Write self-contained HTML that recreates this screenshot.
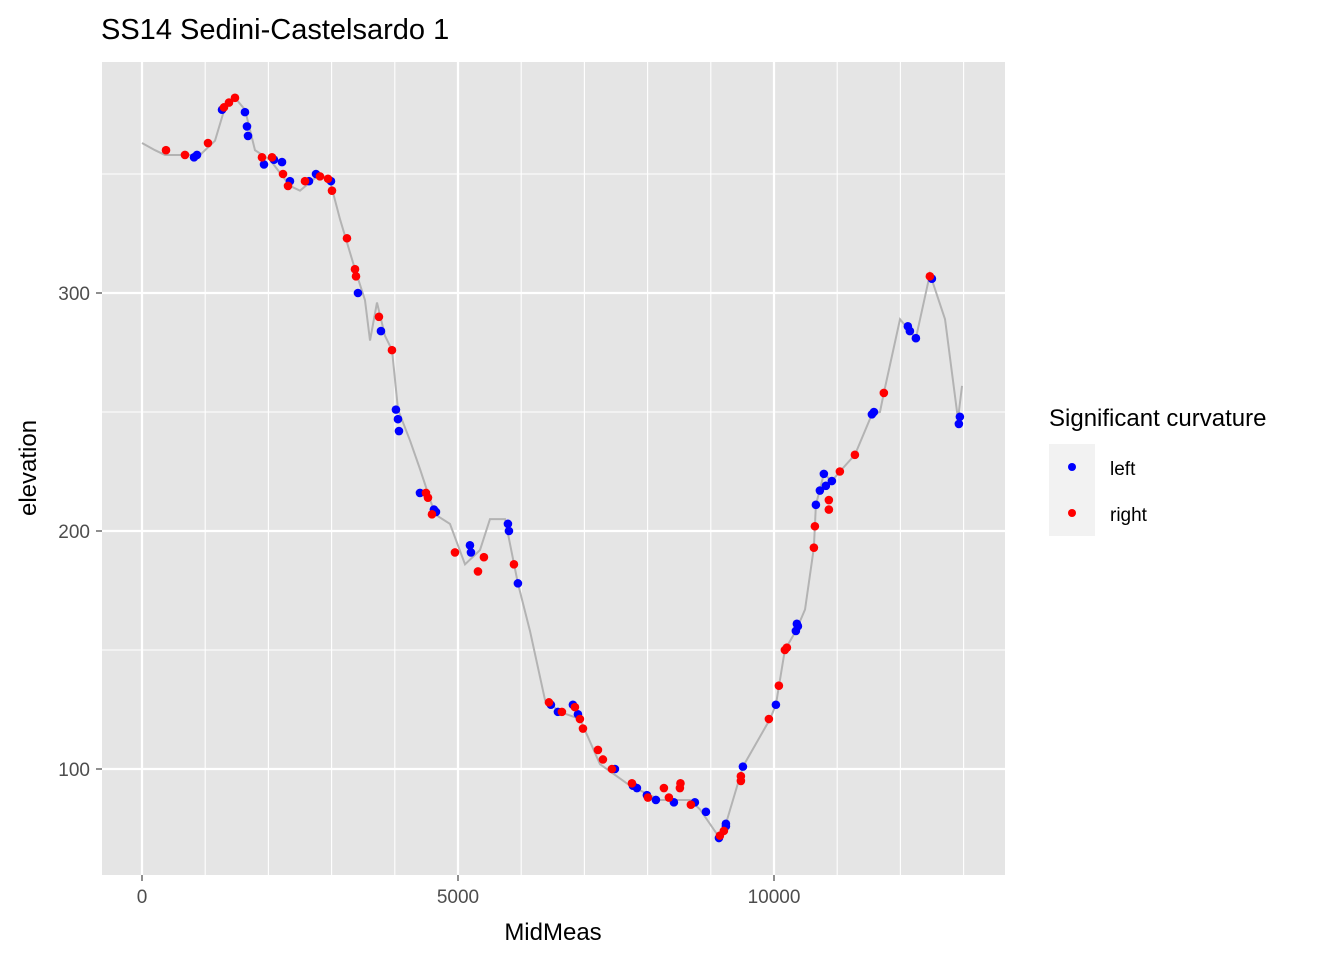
<!DOCTYPE html>
<html><head><meta charset="utf-8"><style>
body{margin:0;background:#fff;width:1344px;height:960px;overflow:hidden;font-family:"Liberation Sans",Arial,sans-serif}
</style></head><body>
<svg id="chart" width="1344" height="960" xmlns="http://www.w3.org/2000/svg">
<text x="101" y="39" font-size="29" fill="#000">SS14 Sedini-Castelsardo 1</text>
<rect x="102" y="62" width="903" height="813" fill="#e5e5e5"/>
<g id="grid"></g>
<g id="line"></g>
<g id="pts"></g>
<g id="axes"></g>
<text x="553" y="940" font-size="24" text-anchor="middle">MidMeas</text>
<text transform="translate(36,468) rotate(-90)" font-size="24" text-anchor="middle">elevation</text>
<g>
<text x="1049" y="426" font-size="24">Significant curvature</text>
<rect x="1049" y="444" width="46" height="46" fill="#f2f2f2"/>
<circle cx="1072" cy="467" r="4" fill="#0000ff"/>
<text x="1110" y="475" font-size="19">left</text>
<rect x="1049" y="490" width="46" height="46" fill="#f2f2f2"/>
<circle cx="1072" cy="513" r="4" fill="#ff0000"/>
<text x="1110" y="521" font-size="19">right</text>
</g>
</svg>
<script>
const xTicks=[0,5000,10000];
const yTicks=[100,200,300];
const xGrid=[1000,2000,3000,4000,6000,7000,8000,9000,11000,12000,13000];
const yGrid=[150,250,350];
const lineX=[0,206,364,918,1155,1313,1472,1630,1788,2025,2342,2500,2816,2975,3133,3370,3528,3608,3718,3845,3956,4051,4241,4399,4636,4873,5111,5348,5506,5744,5948,6139,6377,6614,6930,7247,7722,8196,8671,8829,9114,9239,9508,9937,10030,10172,10346,10491,10631,10663,10789,10916,11042,11280,11549,11677,11738,11994,12150,12245,12468,12706,12911,12975];
const lineY=[363,360,358,358,364,378,382,377,360,356,345,343,350,347,331,310,297,280,296,282,276,251,238,226,207,203,186,192,205,205,178,158,129,124,121,102,93,87,87,83,72,77,101,121,127,150,158,167,193,211,224,221,225,232,249,250,258,289,284,281,308,289,247,261];
const rightX=[380,680,1044,1297,1376,1471,1898,2057,2231,2310,2579,2816,2943,3006,3243,3370,3386,3749,3955,4493,4525,4588,4952,5316,5410,5885,6439,6644,6850,6929,6977,7214,7293,7435,7752,8005,8258,8337,8511,8520,8685,9144,9207,9476,9476,9919,10077,10172,10204,10631,10647,10868,10868,11042,11280,11738,12466];
const rightY=[360,358,363,378,380,382,357,357,350,345,347,349,348,343,323,310,307,290,276,216,214,207,191,183,189,186,128,124,126,121,117,108,104,100,94,88,92,88,92,94,85,72,74,97,95,121,135,150,151,193,202,213,209,225,232,258,307];
const leftX=[870,823,1266,1629,1661,1677,1930,2088,2215,2341,2642,2753,2990,3417,3781,4018,4050,4066,4398,4619,4651,5189,5205,5790,5806,5948,6470,6581,6818,6898,7483,7768,7831,7989,8131,8416,8748,8923,9129,9239,9239,9508,10030,10346,10362,10378,10663,10726,10789,10821,10916,11549,11581,12118,12150,12245,12498,12941,12925];
const leftY=[358,357,377,376,370,366,354,356,355,347,347,350,347,300,284,251,247,242,216,209,208,194,191,203,200,178,127,124,127,123,100,93,92,89,87,86,86,82,71,77,76,101,127,158,161,160,211,217,224,219,221,249,250,286,284,281,306,248,245];
const NS='http://www.w3.org/2000/svg';
const sx=v=>142+v*0.0632, sy=v=>293-(v-300)*2.38;
function mk(t,a,p){const e=document.createElementNS(NS,t);for(const k in a)e.setAttribute(k,a[k]);document.getElementById(p).appendChild(e);return e;}
xGrid.forEach(v=>{const e=mk('line',{x1:sx(v),x2:sx(v),y1:62,y2:875,stroke:'#fff','stroke-width':1.1},'grid');

});
yGrid.forEach(v=>{const e=mk('line',{x1:102,x2:1005,y1:sy(v),y2:sy(v),stroke:'#fff','stroke-width':1.1},'grid');

});
xTicks.forEach(v=>{const e=mk('line',{x1:sx(v),x2:sx(v),y1:62,y2:875,stroke:'#fff','stroke-width':2.2},'grid');


const t=mk('line',{x1:sx(v),x2:sx(v),y1:875,y2:881,stroke:'#333','stroke-width':1.1},'axes');


const l=mk('text',{x:sx(v),y:903,'font-size':19,fill:'#4d4d4d','text-anchor':'middle'},'axes');l.textContent=v;

});
yTicks.forEach(v=>{const e=mk('line',{x1:102,x2:1005,y1:sy(v),y2:sy(v),stroke:'#fff','stroke-width':2.2},'grid');


const t=mk('line',{x1:96,x2:102,y1:sy(v),y2:sy(v),stroke:'#333','stroke-width':1.1},'axes');


const l=mk('text',{x:90,y:sy(v)+7,'font-size':19,fill:'#4d4d4d','text-anchor':'end'},'axes');l.textContent=v;

});
const pl=mk('polyline',{points:lineX.map((x,i)=>sx(x)+','+sy(lineY[i])).join(' '),fill:'none',stroke:'#b3b3b3','stroke-width':2},'line');


leftX.forEach((x,i)=>{const c=mk('circle',{cx:sx(x),cy:sy(leftY[i]),r:4.3,fill:'#0000ff'},'pts');

});
rightX.forEach((x,i)=>{const c=mk('circle',{cx:sx(x),cy:sy(rightY[i]),r:4.3,fill:'#ff0000'},'pts');

});
</script>
</body></html>
